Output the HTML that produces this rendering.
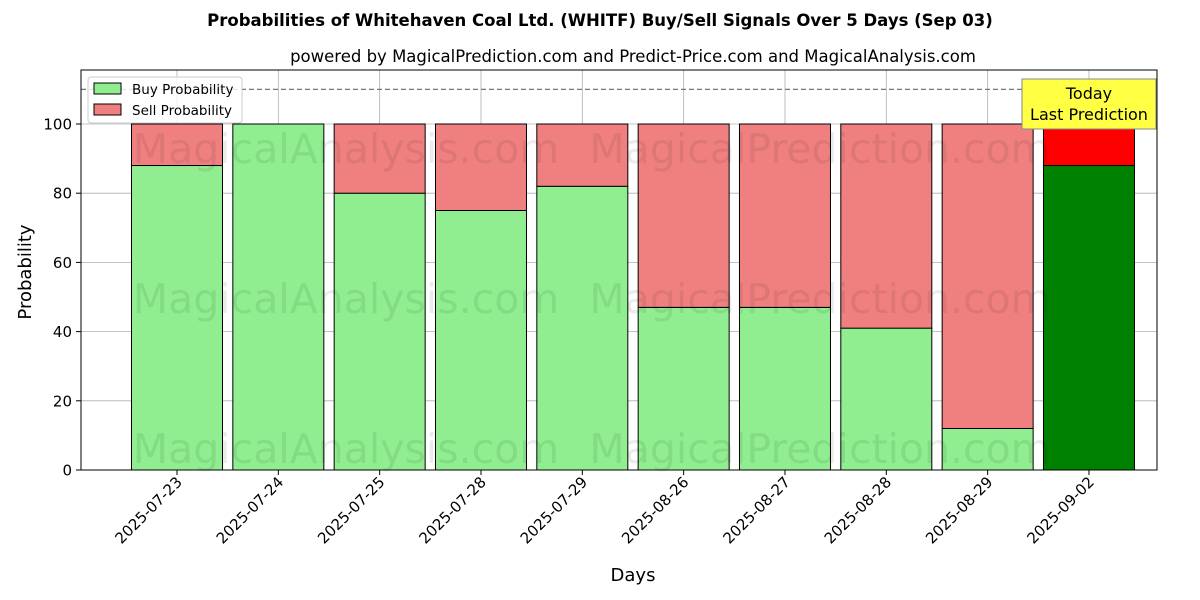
<!DOCTYPE html>
<html><head><meta charset="utf-8"><style>
html,body{margin:0;padding:0;background:#fff;}
svg{display:block;font-family:"DejaVu Sans","Liberation Sans",sans-serif;}
</style></head><body>
<svg id="chart" width="1200" height="600" viewBox="0 0 1200 600">
<text x="600" y="26" text-anchor="middle" font-size="16.5" font-weight="bold">Probabilities of Whitehaven Coal Ltd. (WHITF) Buy/Sell Signals Over 5 Days (Sep 03)</text>
<text x="633" y="62" text-anchor="middle" font-size="16.5">powered by MagicalPrediction.com and Predict-Price.com and MagicalAnalysis.com</text>
<g id="grid"></g>
<g id="bars"></g>
<g id="wm" font-size="41" fill="#000" fill-opacity="0.08">
<text x="346" y="163" text-anchor="middle">MagicalAnalysis.com</text>
<text x="820" y="163" text-anchor="middle">MagicalPrediction.com</text>
<text x="346" y="313" text-anchor="middle">MagicalAnalysis.com</text>
<text x="820" y="313" text-anchor="middle">MagicalPrediction.com</text>
<text x="346" y="463" text-anchor="middle">MagicalAnalysis.com</text>
<text x="820" y="463" text-anchor="middle">MagicalPrediction.com</text>
</g>
<line x1="81" x2="1157" y1="89.4" y2="89.4" stroke="#777" stroke-dasharray="5,3" stroke-width="1.2"/>
<rect x="81" y="70" width="1076" height="400" fill="none" stroke="#000" stroke-width="1"/>
<g id="axes"></g>
<g>
<rect x="1022" y="79" width="134" height="50" fill="#ffff44" stroke="#888"/>
<text x="1089" y="99" text-anchor="middle" font-size="16">Today</text>
<text x="1089" y="120" text-anchor="middle" font-size="16">Last Prediction</text>
</g>
<g>
<rect x="88" y="77" width="154" height="46" fill="#fff" fill-opacity="0.8" stroke="#ccc" rx="3"/>
<rect x="94" y="83" width="27" height="11" fill="#90ee90" stroke="#000"/>
<text x="132" y="94" font-size="13.5">Buy Probability</text>
<rect x="94" y="104" width="27" height="11" fill="#f08080" stroke="#000"/>
<text x="132" y="115" font-size="13.5">Sell Probability</text>
</g>
<text x="633" y="581" text-anchor="middle" font-size="18">Days</text>
<text transform="translate(31,272) rotate(-90)" text-anchor="middle" font-size="18">Probability</text>
</svg>
<script>
const categories=["2025-07-23","2025-07-24","2025-07-25","2025-07-28","2025-07-29","2025-08-26","2025-08-27","2025-08-28","2025-08-29","2025-09-02"];
const buyValues=[88,100,80,75,82,47,47,41,12,88];
const sellValues=[12,0,20,25,18,53,53,59,88,12];
const yTicks=[0,20,40,60,80,100];
const NS="http://www.w3.org/2000/svg";
function y(v){return 470-v*3.46;}
function x(i){return 177+i*101.33;}
const bw=91;
function mk(tag,attrs,parent){const e=document.createElementNS(NS,tag);for(const k in attrs)e.setAttribute(k,attrs[k]);parent.appendChild(e);return e;}
const grid=document.getElementById('grid'),bars=document.getElementById('bars'),axes=document.getElementById('axes');
yTicks.forEach(t=>{
 const l=mk('line',{x1:81,x2:1157,y1:y(t),y2:y(t),stroke:'#b0b0b0','stroke-width':0.8},grid);
 
 
 const tk=mk('line',{x1:76,x2:81,y1:y(t),y2:y(t),stroke:'#000'},axes);
 
 
 const tx=mk('text',{x:72,y:y(t)+5.5,'text-anchor':'end','font-size':15},axes);
 tx.textContent=t;
 
 
});
categories.forEach((c,i)=>{
 const g=mk('line',{x1:x(i),x2:x(i),y1:70,y2:470,stroke:'#b0b0b0','stroke-width':0.8},grid);
 
 
 const last=i===categories.length-1;
 const b=mk('rect',{x:x(i)-bw/2,y:y(buyValues[i]),width:bw,height:y(0)-y(buyValues[i]),fill:last?'#008000':'#90ee90',stroke:'#000','stroke-width':1},bars);
 
 
 const s=mk('rect',{x:x(i)-bw/2,y:y(buyValues[i]+sellValues[i]),width:bw,height:y(buyValues[i])-y(buyValues[i]+sellValues[i]),fill:last?'#ff0000':'#f08080',stroke:'#000','stroke-width':1},bars);
 
 
 const tk=mk('line',{x1:x(i),x2:x(i),y1:470,y2:475,stroke:'#000'},axes);
 
 
 const tx=mk('text',{transform:`translate(${x(i)+6},483) rotate(-45)`,'text-anchor':'end','font-size':15},axes);
 tx.textContent=c;
 
 
});
</script>
</body></html>
